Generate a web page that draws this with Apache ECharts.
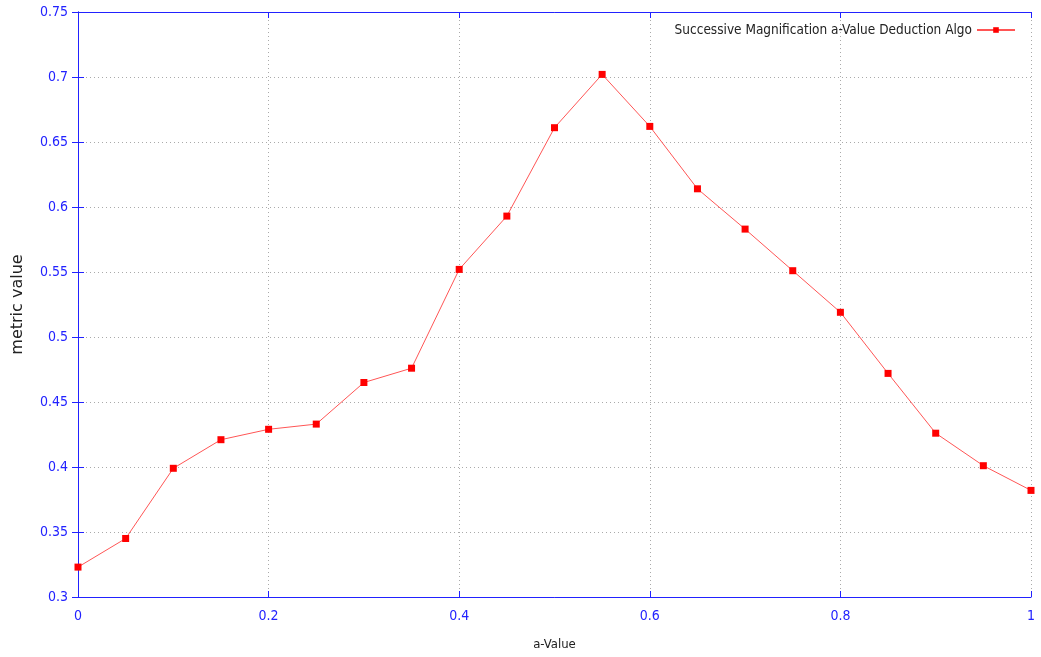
<!DOCTYPE html>
<html><head><meta charset="utf-8">
<script src="https://cdn.jsdelivr.net/npm/echarts@6/dist/echarts.min.js"></script>
<style>html,body{margin:0;padding:0;background:#fff}#c{width:1041px;height:657px}</style>
</head><body><div id="c"></div>
<script>
const aValues = [0,0.05,0.1,0.15,0.2,0.25,0.3,0.35,0.4,0.45,0.5,0.55,0.6,0.65,0.7,0.75,0.8,0.85,0.9,0.95,1.0];
const metricValues = [0.323,0.345,0.399,0.421,0.429,0.433,0.465,0.476,0.552,0.593,0.661,0.702,0.662,0.614,0.583,0.551,0.519,0.472,0.426,0.401,0.382];
const seriesName = 'Successive Magnification a-Value Deduction Algo';
const xTicks = {min:0, max:1, interval:0.2};
const yTicks = {min:0.3, max:0.75, interval:0.05};

const blue = '#2222ff';
const font = '"DejaVu Sans Condensed",sans-serif';
const chart = echarts.init(document.getElementById('c'));
const axisCommon = {
  axisLine:{show:true, lineStyle:{color:blue, width:1}},
  axisTick:{show:true, inside:true, length:6, lineStyle:{color:blue}},
};
chart.setOption({
  animation:false,
  grid:{left:78, right:10, top:12, bottom:60, show:false, containLabel:false, outerBoundsMode:'none'},
  legend:{
    show:true, right:25, top:23, align:'right', itemWidth:38, itemHeight:7, itemGap:0, padding:0,
    textStyle:{fontFamily:font, fontSize:13.5, color:'#222'},
    data:[{name:seriesName}]
  },
  xAxis:[{
    type:'value', min:xTicks.min, max:xTicks.max, interval:xTicks.interval,
    name:'a-Value', nameLocation:'middle', nameGap:41,
    nameTextStyle:{fontFamily:font, fontSize:13, color:'#222'},
    ...axisCommon,
    axisLabel:{color:blue, fontFamily:font, fontSize:14, margin:12, formatter:v=>String(+v.toFixed(2))},
    splitLine:{show:true, lineStyle:{color:'#aaaaaa', type:[1,3], width:1}}
  },{
    type:'value', position:'top', min:xTicks.min, max:xTicks.max, interval:xTicks.interval,
    ...axisCommon, axisLabel:{show:false}, splitLine:{show:false}
  }],
  yAxis:[{
    type:'value', min:yTicks.min, max:yTicks.max, interval:yTicks.interval,
    name:'metric value', nameLocation:'middle', nameGap:52, nameRotate:90,
    nameTextStyle:{fontFamily:'"DejaVu Sans",sans-serif', fontSize:16, color:'#222'},
    ...axisCommon,
    axisLabel:{color:blue, fontFamily:font, fontSize:14, margin:10, formatter:v=>String(+v.toFixed(2))},
    splitLine:{show:true, lineStyle:{color:'#aaaaaa', type:[1,3], width:1}}
  },{
    type:'value', position:'right', min:yTicks.min, max:yTicks.max, interval:yTicks.interval,
    ...axisCommon, axisLabel:{show:false}, splitLine:{show:false}
  }],
  series:[{
    name:seriesName, type:'line', xAxisIndex:0, yAxisIndex:0,
    data:aValues.map((x,i)=>[x, metricValues[i]]),
    symbol:'rect', symbolSize:7, showAllSymbol:true,
    lineStyle:{color:'#ff5555', width:1},
    itemStyle:{color:'#ff0000'},
    clip:false
  }]
});
</script></body></html>
